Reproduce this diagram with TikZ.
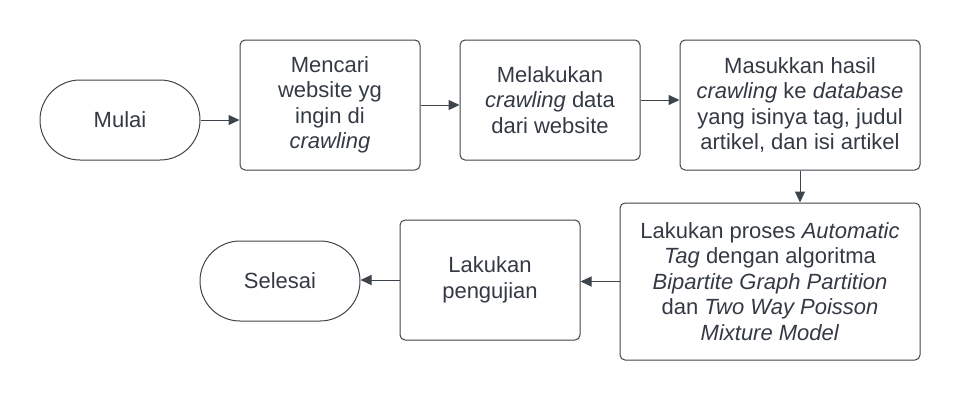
\documentclass[tikz,border=0pt]{standalone}
\usepackage{fontspec}
\setmainfont{Liberation Sans}
\usetikzlibrary{arrows.meta}
\definecolor{ink}{HTML}{333A44}
\definecolor{edge}{HTML}{3E444C}
\tikzset{
  proc/.style={draw=edge, line width=1pt, rounded corners=5pt, align=center, text=ink, inner sep=0pt,
    font=\fontsize{22}{25.5}\selectfont},
  term/.style={draw=edge, line width=1pt, rounded corners=40pt, minimum width=160pt, minimum height=80pt, align=center, text=ink, inner sep=0pt,
    font=\fontsize{22}{25.5}\selectfont},
  conn/.style={draw=edge, line width=1pt, -{Triangle[length=11pt,width=10pt]}}
}
\begin{document}
\begin{tikzpicture}[x=1pt,y=-1pt]
\useasboundingbox (0,0) rectangle (960,400);
\node[term] (mulai) at (120,120) {Mulai};
\node[proc, minimum width=180pt, minimum height=130pt] (b1) at (330,105) {Mencari\\website yg\\ingin di\\\textit{crawling}};
\node[proc, minimum width=180pt, minimum height=120pt] (b2) at (550,100) {Melakukan\\\textit{crawling} data\\dari website};
\node[proc, minimum width=240pt, minimum height=130pt] (b3) at (800,105) {Masukkan hasil\\\textit{crawling} ke \textit{database}\\yang isinya tag, judul\\artikel, dan isi artikel};
\node[proc, minimum width=300pt, minimum height=157pt] (b4) at (770,281.5) {Lakukan proses \textit{Automatic}\\\textit{Tag} dengan algoritma\\\textit{Bipartite Graph Partition}\\dan \textit{Two Way Poisson}\\\textit{Mixture Model}};
\node[proc, minimum width=180pt, minimum height=120pt] (b5) at (490,280) {Lakukan\\pengujian};
\node[term] (selesai) at (280,281) {Selesai};
\draw[conn] (mulai.east) -- (mulai.east -| b1.west);
\draw[conn] (b1.east) -- (b1.east -| b2.west);
\draw[conn] (b2.east) -- (b2.east -| b3.west);
\draw[conn] (b3.south) -- (b3.south |- b4.north);
\draw[conn] (b4.west) -- (b4.west -| b5.east);
\draw[conn] (b5.west) -- (b5.west -| selesai.east);
\end{tikzpicture}
\end{document}
